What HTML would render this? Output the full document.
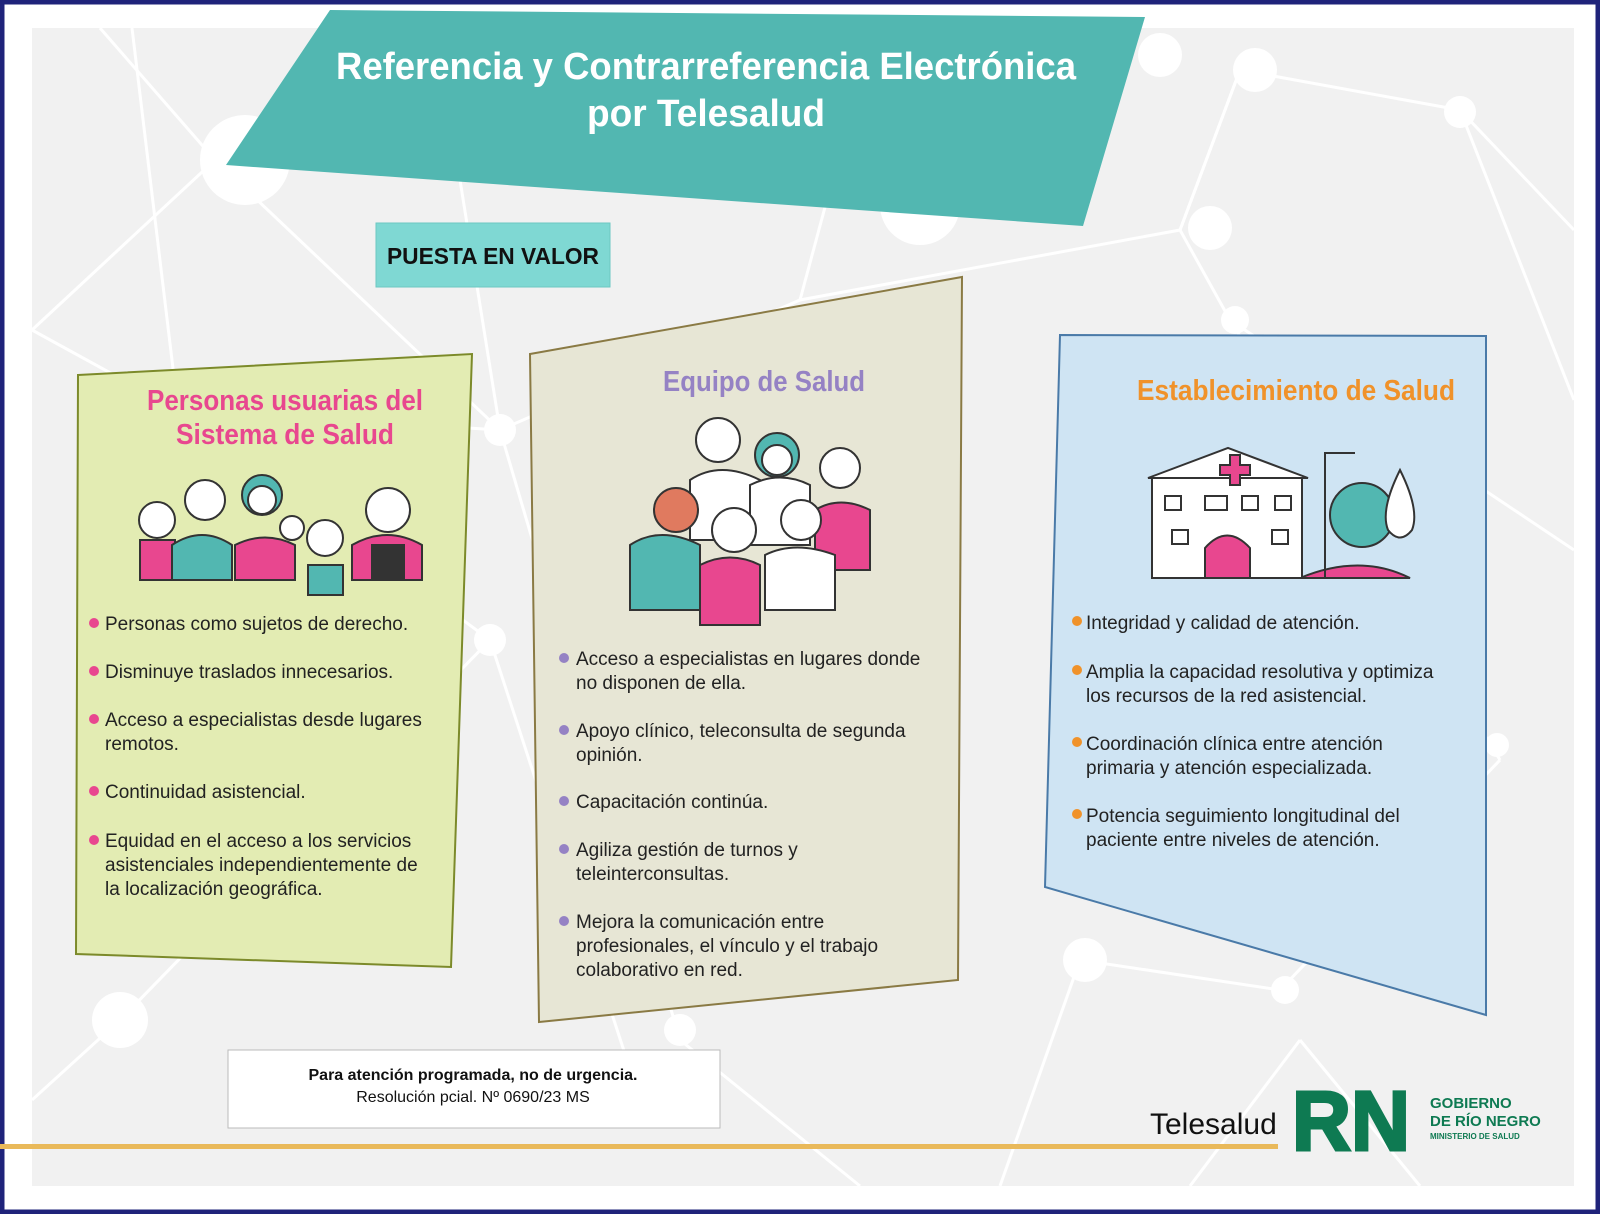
<!DOCTYPE html>
<html><head><meta charset="utf-8"><style>
html,body{margin:0;padding:0;width:1600px;height:1214px;overflow:hidden;background:#fff}
svg text{font-family:"Liberation Sans",sans-serif}
</style></head><body>
<svg width="1600" height="1214" viewBox="0 0 1600 1214" xmlns="http://www.w3.org/2000/svg">
<rect x="2" y="2" width="1596" height="1210" fill="#fff" stroke="#1f237a" stroke-width="5"/>
<rect x="32" y="28" width="1542" height="1158" fill="#f1f1f1"/>
<g stroke="#fff" stroke-width="3" fill="none">
<path d="M100 28 L215 160 L500 430 L680 1040"/><path d="M132 28 L178 410 L500 430"/>
<path d="M32 330 L215 160"/><path d="M32 330 L178 410 L490 640 L120 1020"/>
<path d="M460 180 L500 430 L800 300 L1180 230 L1240 70 L1460 110 L1574 230"/>
<path d="M800 300 L870 40"/><path d="M1180 230 L1230 320 L1500 760"/>
<path d="M1240 70 L1180 230"/><path d="M1460 110 L1574 400"/>
<path d="M1080 960 L1280 990 L1500 760"/><path d="M1080 960 L1000 1186"/>
<path d="M680 1040 L860 1186"/><path d="M1300 1040 L1190 1186"/><path d="M1300 1040 L1420 1186"/>
<path d="M120 1020 L32 1100"/><path d="M1230 320 L1574 550"/><path d="M490 640 L640 1100"/>
</g>
<g fill="#fff">
<circle cx="245" cy="160" r="45"/><circle cx="500" cy="430" r="16"/><circle cx="490" cy="640" r="16"/>
<circle cx="120" cy="1020" r="28"/><circle cx="680" cy="1030" r="16"/><circle cx="1160" cy="55" r="22"/>
<circle cx="1255" cy="70" r="22"/><circle cx="1460" cy="112" r="16"/><circle cx="1210" cy="228" r="22"/>
<circle cx="1085" cy="960" r="22"/><circle cx="1285" cy="990" r="14"/><circle cx="1497" cy="745" r="12"/>
<circle cx="1235" cy="320" r="14"/><circle cx="920" cy="205" r="40"/>
</g>
<polygon points="330,10 1145,17 1083,226 226,165" fill="#52b7b1"/>
<text x="706" y="79" text-anchor="middle" font-size="38" font-weight="bold" fill="#fff" textLength="740" lengthAdjust="spacingAndGlyphs">Referencia y Contrarreferencia Electrónica</text>
<text x="706" y="126" text-anchor="middle" font-size="38" font-weight="bold" fill="#fff" textLength="238" lengthAdjust="spacingAndGlyphs">por Telesalud</text>
<rect x="376" y="223" width="234" height="64" fill="#7fd8d3" stroke="#6cc8c2"/>
<text x="493" y="264" text-anchor="middle" font-size="23" font-weight="bold" fill="#111" textLength="212" lengthAdjust="spacingAndGlyphs">PUESTA EN VALOR</text>
<!-- left panel -->
<polygon points="78,375 472,354 451,967 76,954" fill="#e3ecb3" stroke="#7c8a2a" stroke-width="2"/>
<text x="285" y="410" text-anchor="middle" font-size="29" font-weight="bold" fill="#e8478f" textLength="276" lengthAdjust="spacingAndGlyphs">Personas usuarias del</text>
<text x="285" y="444" text-anchor="middle" font-size="29" font-weight="bold" fill="#e8478f" textLength="218" lengthAdjust="spacingAndGlyphs">Sistema de Salud</text>
<g stroke="#333" stroke-width="2">
<rect x="140" y="540" width="35" height="40" fill="#e8478f"/><circle cx="157" cy="520" r="18" fill="#fff"/>
<path d="M172 545 q30 -20 60 0 v35 h-60z" fill="#52b7b1"/><circle cx="205" cy="500" r="20" fill="#fff"/>
<path d="M235 545 q30 -15 60 0 v35 h-60z" fill="#e8478f"/><circle cx="262" cy="495" r="20" fill="#52b7b1"/><circle cx="262" cy="500" r="14" fill="#fff"/>
<circle cx="292" cy="528" r="12" fill="#fff"/>
<path d="M308 565 h35 v30 h-35z" fill="#52b7b1"/><circle cx="325" cy="538" r="18" fill="#fff"/>
<path d="M352 545 q35 -20 70 0 v35 h-70z" fill="#e8478f"/><path d="M372 545 h32 v35 h-32z" fill="#333"/><circle cx="388" cy="510" r="22" fill="#fff"/>
</g>
<g font-size="19" fill="#222">
<circle cx="94" cy="623" r="5" fill="#e8478f"/><text x="105" y="630">Personas como sujetos de derecho.</text>
<circle cx="94" cy="671" r="5" fill="#e8478f"/><text x="105" y="678">Disminuye traslados innecesarios.</text>
<circle cx="94" cy="719" r="5" fill="#e8478f"/><text x="105" y="726">Acceso a especialistas desde lugares</text><text x="105" y="750">remotos.</text>
<circle cx="94" cy="791" r="5" fill="#e8478f"/><text x="105" y="798">Continuidad asistencial.</text>
<circle cx="94" cy="840" r="5" fill="#e8478f"/><text x="105" y="847">Equidad en el acceso a los servicios</text><text x="105" y="871">asistenciales independientemente de</text><text x="105" y="895">la localización geográfica.</text>
</g>
<!-- middle panel -->
<polygon points="530,354 962,277 958,980 539,1022" fill="#e7e6d5" stroke="#8a7a44" stroke-width="2"/>
<text x="764" y="391" text-anchor="middle" font-size="29" font-weight="bold" fill="#9582c4" textLength="202" lengthAdjust="spacingAndGlyphs">Equipo de Salud</text>
<g stroke="#333" stroke-width="2">
<path d="M690 480 q30 -20 70 0 v60 h-70z" fill="#fff"/><circle cx="718" cy="440" r="22" fill="#fff"/>
<path d="M750 485 q30 -15 60 0 v60 h-60z" fill="#fff"/><circle cx="777" cy="455" r="22" fill="#52b7b1"/><circle cx="777" cy="460" r="15" fill="#fff"/>
<path d="M815 510 q25 -15 55 0 v60 h-55z" fill="#e8478f"/><circle cx="840" cy="468" r="20" fill="#fff"/>
<path d="M630 545 q30 -20 70 0 v65 h-70z" fill="#52b7b1"/><circle cx="676" cy="510" r="22" fill="#e07a5f"/>
<path d="M700 565 q30 -15 60 0 v60 h-60z" fill="#e8478f"/><circle cx="734" cy="530" r="22" fill="#fff"/>
<path d="M765 555 q30 -15 70 0 v55 h-70z" fill="#fff"/><circle cx="801" cy="520" r="20" fill="#fff"/>
</g>
<g font-size="19" fill="#222">
<circle cx="564" cy="658" r="5" fill="#9582c4"/><text x="576" y="665">Acceso a especialistas en lugares donde</text><text x="576" y="689">no disponen de ella.</text>
<circle cx="564" cy="730" r="5" fill="#9582c4"/><text x="576" y="737">Apoyo clínico, teleconsulta de segunda</text><text x="576" y="761">opinión.</text>
<circle cx="564" cy="801" r="5" fill="#9582c4"/><text x="576" y="808">Capacitación continúa.</text>
<circle cx="564" cy="849" r="5" fill="#9582c4"/><text x="576" y="856">Agiliza gestión de turnos y</text><text x="576" y="880">teleinterconsultas.</text>
<circle cx="564" cy="921" r="5" fill="#9582c4"/><text x="576" y="928">Mejora la comunicación entre</text><text x="576" y="952">profesionales, el vínculo y el trabajo</text><text x="576" y="976">colaborativo en red.</text>
</g>
<!-- right panel -->
<polygon points="1060,335 1486,336 1486,1015 1045,887" fill="#cfe4f3" stroke="#4a7aa8" stroke-width="2"/>
<text x="1296" y="400" text-anchor="middle" font-size="29" font-weight="bold" fill="#f0922a" textLength="318" lengthAdjust="spacingAndGlyphs">Establecimiento de Salud</text>
<g stroke="#333" stroke-width="2">
<path d="M1300 578 q60 -25 110 0z" fill="#e8478f"/>
<rect x="1152" y="478" width="150" height="100" fill="#fff"/><path d="M1148 478 l80 -30 l80 30z" fill="#fff"/>
<path d="M1205 578 v-30 q22 -25 45 0 v30z" fill="#e8478f"/>
<path d="M1220 465 h10 v-10 h10 v10 h10 v10 h-10 v10 h-10 v-10 h-10z" fill="#e8478f"/>
<rect x="1165" y="496" width="16" height="14" fill="#fff"/><rect x="1205" y="496" width="22" height="14" fill="#fff"/><rect x="1242" y="496" width="16" height="14" fill="#fff"/><rect x="1275" y="496" width="16" height="14" fill="#fff"/>
<rect x="1172" y="530" width="16" height="14" fill="#fff"/><rect x="1272" y="530" width="16" height="14" fill="#fff"/>
<path d="M1325 578 v-125 h30" fill="none"/><circle cx="1362" cy="515" r="32" fill="#52b7b1"/>
<path d="M1400 470 q20 40 12 60 q-12 15 -24 0 q-8 -20 12 -60z" fill="#fff"/>
</g>
<g font-size="19" fill="#222">
<circle cx="1077" cy="621" r="5" fill="#f0922a"/><text x="1086" y="629">Integridad y calidad de atención.</text>
<circle cx="1077" cy="670" r="5" fill="#f0922a"/><text x="1086" y="678">Amplia la capacidad resolutiva y optimiza</text><text x="1086" y="702">los recursos de la red asistencial.</text>
<circle cx="1077" cy="742" r="5" fill="#f0922a"/><text x="1086" y="750">Coordinación clínica entre atención</text><text x="1086" y="774">primaria y atención especializada.</text>
<circle cx="1077" cy="814" r="5" fill="#f0922a"/><text x="1086" y="822">Potencia seguimiento longitudinal del</text><text x="1086" y="846">paciente entre niveles de atención.</text>
</g>
<!-- footer -->
<rect x="228" y="1050" width="492" height="78" fill="#fff" stroke="#bbb"/>
<text x="473" y="1080" text-anchor="middle" font-size="16" font-weight="bold" fill="#111">Para atención programada, no de urgencia.</text>
<text x="473" y="1102" text-anchor="middle" font-size="16" fill="#111">Resolución pcial. Nº 0690/23 MS</text>
<rect x="0" y="1144" width="1278" height="5" fill="#e9b95a"/>
<text x="1150" y="1134" font-size="30" fill="#111">Telesalud</text>
<text x="1292" y="1150" font-size="84" font-weight="bold" fill="#0e7a52" textLength="118" lengthAdjust="spacingAndGlyphs" stroke="#0e7a52" stroke-width="3">RN</text>
<text x="1430" y="1108" font-size="15" font-weight="bold" fill="#0e7a52">GOBIERNO</text>
<text x="1430" y="1126" font-size="15" font-weight="bold" fill="#0e7a52">DE RÍO NEGRO</text>
<text x="1430" y="1139" font-size="8" font-weight="bold" fill="#0e7a52">MINISTERIO DE SALUD</text>
</svg>
</body></html>
